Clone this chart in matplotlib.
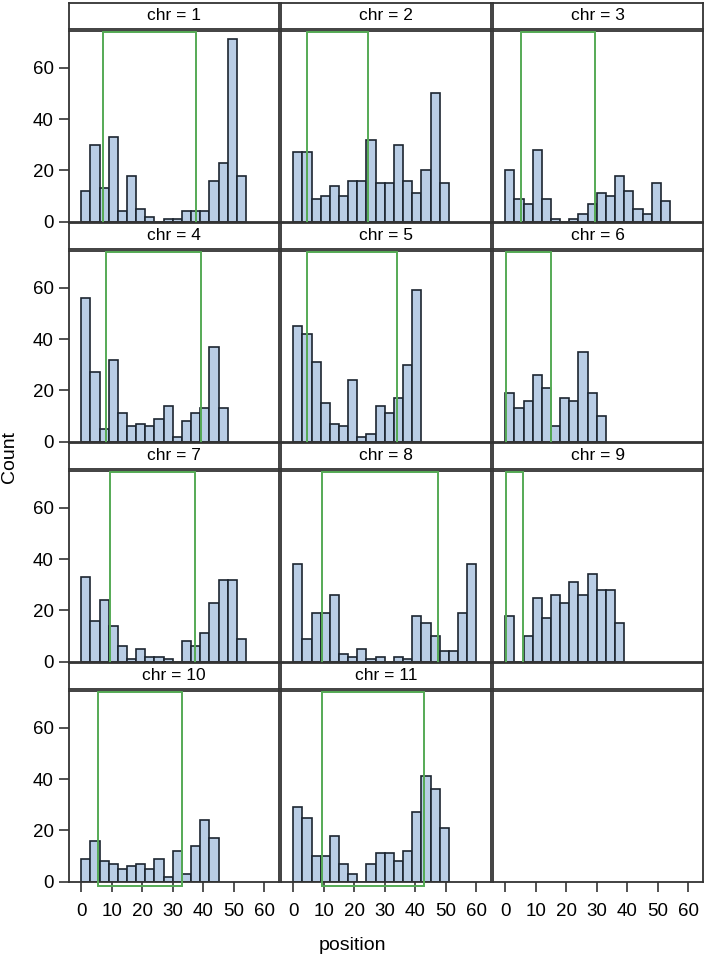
import matplotlib
matplotlib.use("Agg")
import matplotlib.pyplot as plt
import numpy as np
from matplotlib.patches import Rectangle

plt.rcParams['font.family'] = ['Liberation Sans', 'DejaVu Sans']

BIN = 3

# counts per bin of width 3, starting at position 0
chr1 = [12, 30, 13, 33, 4, 18, 5, 2, 0, 1, 1, 4, 4, 4, 16, 23, 71, 18]
chr2 = [27, 27, 9, 10, 14, 10, 16, 16, 32, 15, 15, 30, 16, 11, 20, 50, 15]
chr3 = [20, 9, 7, 28, 9, 1, 0, 1, 3, 7, 11, 10, 18, 12, 5, 3, 15, 8]
chr4 = [56, 27, 5, 32, 11, 6, 7, 6, 9, 14, 2, 8, 11, 13, 37, 13]
chr5 = [45, 42, 31, 15, 7, 6, 24, 2, 3, 14, 11, 17, 30, 59]
chr6 = [19, 13, 16, 26, 21, 6, 17, 16, 35, 19, 10]
chr7 = [33, 16, 24, 14, 6, 1, 5, 2, 2, 1, 0, 8, 6, 11, 23, 32, 32, 9]
chr8 = [38, 9, 19, 19, 26, 3, 2, 5, 1, 2, 0, 2, 1, 18, 15, 10, 4, 4, 19, 38]
chr9 = [18, 0, 10, 25, 17, 26, 23, 31, 26, 34, 28, 28, 15]
chr10 = [9, 16, 8, 7, 5, 6, 7, 5, 9, 2, 12, 3, 14, 24, 17]
chr11 = [29, 25, 10, 10, 18, 7, 3, 0, 7, 11, 11, 8, 12, 27, 41, 36, 21]

counts = [chr1, chr2, chr3, chr4, chr5, chr6, chr7, chr8, chr9, chr10, chr11]
chr_names = ["1", "2", "3", "4", "5", "6", "7", "8", "9", "10", "11"]

# green region (start, end) per chromosome
region_start = [7.0, 4.4, 5.2, 8.2, 4.6, 0.1, 9.3, 9.5, 0.3, 5.6, 9.5]
region_end = [37.7, 24.4, 29.3, 39.3, 33.9, 15.1, 37.2, 47.5, 5.8, 32.9, 42.8]

xticks = [0, 10, 20, 30, 40, 50, 60]
yticks = [0, 20, 40, 60]

W, H = 708, 964
fig = plt.figure(figsize=(W / 100, H / 100), dpi=100)

col_left = [69, 281, 493]
panel_w = 210
row_top = [31, 251, 471, 691]
panel_h = 190.7
XLIM = (-4.0, 64.8)
YLIM = (0, 74.3)
FRAME = '#333333'
FILL = '#B9CDE5'
EDGE = '#1c2530'
GREEN = '#55AA55'
FS = 12.5
TICK_FS = 13.5


def frac(x, y, w, h):
    return [x / W, 1 - (y + h) / H, w / W, h / H]


for i in range(12):
    r, c = divmod(i, 3)
    x0, y0 = col_left[c], row_top[r]

    # header strip
    hax = fig.add_axes(frac(x0, y0 - 28.5, panel_w, 26))
    hax.set_xticks([])
    hax.set_yticks([])
    for s in hax.spines.values():
        s.set_color(FRAME)
        s.set_linewidth(1.3)
    if i < len(counts):
        hax.text(0.5, 0.5, "chr = " + chr_names[i], ha='center', va='center',
                 fontsize=FS, transform=hax.transAxes)

    ax = fig.add_axes(frac(x0, y0, panel_w, panel_h))
    ax.set_xlim(*XLIM)
    ax.set_ylim(*YLIM)
    for s in ax.spines.values():
        s.set_color(FRAME)
        s.set_linewidth(1.3)

    if i < len(counts):
        vals = counts[i]
        edges = np.arange(len(vals)) * BIN
        ax.bar(edges, vals, width=BIN, align='edge', color=FILL,
               edgecolor=EDGE, linewidth=1.2, zorder=2)
        a, b = region_start[i], region_end[i]
        ax.add_patch(Rectangle((a, -1.6), b - a, YLIM[1] - 0.4 + 1.6,
                               fill=False, edgecolor=GREEN, linewidth=1.4,
                               zorder=3, clip_on=False))

    ax.tick_params(direction='out', length=7, width=1.2, color=FRAME,
                   labelsize=TICK_FS)
    if c == 0:
        ax.set_yticks(yticks)
        ax.tick_params(axis='y', pad=4)
    else:
        ax.set_yticks([])
    if r == 3:
        ax.set_xticks(xticks)
        ax.tick_params(axis='x', pad=8)
    else:
        ax.set_xticks([])

fig.text(10 / W, 1 - 457 / H, "Count", rotation=90, ha='center', va='center',
         fontsize=14)
fig.text(352 / W, 1 - 945 / H, "position", ha='center', va='center',
         fontsize=14)

fig.savefig("out.png", dpi=100)
